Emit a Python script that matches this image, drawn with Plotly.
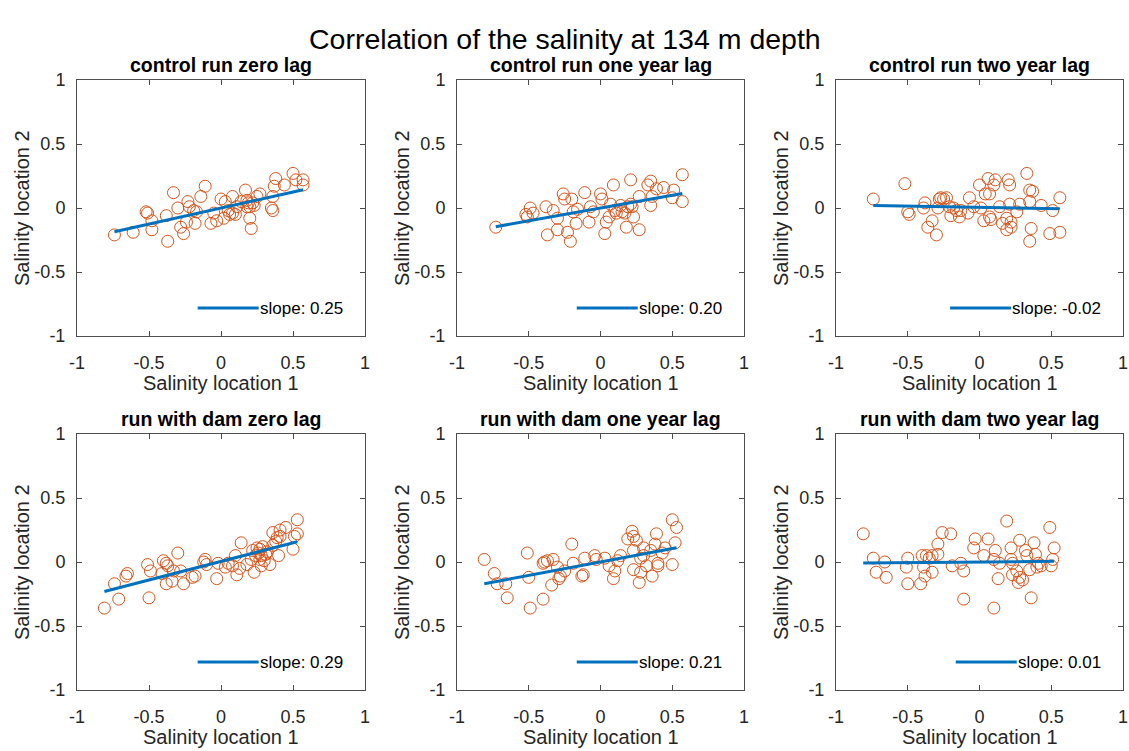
import plotly.graph_objects as go

titles = ["control run zero lag", "control run one year lag", "control run two year lag",
          "run with dam zero lag", "run with dam one year lag", "run with dam two year lag"]
main_title = "Correlation of the salinity at 134 m depth"
x_label = "Salinity location 1"
y_label = "Salinity location 2"
tick_vals = [-1, -0.5, 0, 0.5, 1]
tick_text = ["-1", "-0.5", "0", "0.5", "1"]

slopes = [0.25, 0.20, -0.02, 0.29, 0.21, 0.01]
intercepts = [0.0, 0.0, 0.005, 0.005, 0.0, 0.0]

x1 = [-0.74, -0.61, -0.52, -0.51, -0.48, -0.48, -0.37, -0.38, -0.33, -0.30, -0.28, -0.26, -0.24, -0.23,
      -0.22, -0.19, -0.18, -0.17, -0.14, -0.11, -0.07, -0.05, -0.03, 0.00, 0.02, 0.03, 0.05, 0.06, 0.08,
      0.11, 0.14, 0.17, 0.18, 0.19, 0.20, 0.21, 0.20, 0.22, 0.25, 0.27, 0.35, 0.36, 0.37, 0.38, 0.44,
      0.50, 0.52, 0.57, 0.57, 0.36, 0.08, 0.18, 0.23, 0.10]
y1 = [-0.21, -0.19, -0.03, -0.04, -0.17, -0.10, -0.26, -0.06, 0.12, 0.00, -0.15, -0.20, -0.11, 0.05,
      0.01, -0.02, -0.12, -0.03, 0.09, 0.17, -0.12, -0.04, -0.10, 0.07, -0.08, 0.05, -0.02, -0.05, -0.04,
      0.01, 0.05, 0.14, 0.01, 0.04, -0.08, -0.16, 0.01, 0.04, 0.09, 0.11, 0.00, 0.09, 0.17, 0.23, 0.18,
      0.27, 0.22, 0.22, 0.18, -0.02, 0.09, 0.06, 0.02, -0.05]

x2 = [-0.73, -0.52, -0.51, -0.49, -0.47, -0.38, -0.37, -0.33, -0.30, -0.30, -0.26, -0.25, -0.23, -0.21,
      -0.20, -0.19, -0.17, -0.16, -0.11, -0.08, -0.07, -0.05, 0.00, 0.01, 0.03, 0.04, 0.06, 0.07, 0.09,
      0.10, 0.11, 0.14, 0.15, 0.17, 0.18, 0.19, 0.21, 0.21, 0.22, 0.23, 0.27, 0.27, 0.33, 0.35, 0.35,
      0.36, 0.39, 0.44, 0.50, 0.51, 0.57, 0.57]
y2 = [-0.15, -0.05, -0.07, 0.00, -0.04, 0.01, -0.21, -0.02, -0.08, -0.17, 0.11, 0.07, -0.19, -0.26,
      0.07, -0.03, -0.12, -0.01, 0.12, -0.11, 0.01, -0.03, 0.11, 0.07, -0.20, -0.11, -0.07, 0.03, 0.18,
      -0.02, -0.04, 0.02, -0.03, -0.04, -0.15, 0.01, 0.03, 0.22, 0.01, -0.07, -0.17, 0.09, 0.18, 0.21,
      0.02, 0.09, 0.15, 0.16, 0.08, 0.14, 0.05, 0.26]

x3 = [-0.74, -0.52, -0.50, -0.49, -0.39, -0.38, -0.36, -0.33, -0.30, -0.29, -0.28, -0.27, -0.25, -0.23,
      -0.21, -0.20, -0.18, -0.16, -0.14, -0.13, -0.08, -0.07, -0.04, 0.00, 0.01, 0.03, 0.04, 0.06, 0.07,
      0.07, 0.08, 0.10, 0.11, 0.14, 0.16, 0.19, 0.20, 0.21, 0.21, 0.19, 0.22, 0.22, 0.26, 0.28, 0.33,
      0.35, 0.35, 0.36, 0.35, 0.37, 0.43, 0.49, 0.51, 0.56, 0.56]
y3 = [0.07, 0.19, -0.03, -0.05, 0.00, 0.04, -0.15, -0.10, -0.21, 0.00, 0.07, 0.08, 0.07, 0.08,
      0.01, -0.06, 0.00, -0.02, -0.07, -0.02, -0.04, 0.08, 0.01, 0.18, 0.00, -0.10, 0.11, 0.23, -0.07,
      0.11, -0.09, 0.18, 0.22, 0.01, -0.12, -0.08, 0.22, 0.03, 0.18, -0.17, -0.15, -0.11, -0.03, 0.03, 0.27,
      0.05, 0.14, -0.16, -0.26, 0.13, 0.02, -0.20, -0.02, -0.19, 0.08]

x4 = [-0.81, -0.74, -0.71, -0.66, -0.65, -0.51, -0.50, -0.49, -0.41, -0.40, -0.38, -0.38, -0.37, -0.34,
      -0.33, -0.30, -0.28, -0.26, -0.20, -0.18, -0.12, -0.11, -0.10, -0.03, -0.02, 0.03, 0.05, 0.08, 0.10,
      0.11, 0.13, 0.14, 0.18, 0.21, 0.22, 0.23, 0.24, 0.25, 0.26, 0.27, 0.27, 0.28, 0.28, 0.29, 0.30,
      0.31, 0.32, 0.34, 0.36, 0.36, 0.38, 0.39, 0.40, 0.41, 0.41, 0.45, 0.50, 0.51, 0.53, 0.53]
y4 = [-0.36, -0.17, -0.29, -0.11, -0.09, -0.02, -0.28, -0.07, -0.09, 0.01, -0.17, -0.01, -0.03, -0.15,
      -0.07, 0.07, -0.07, -0.17, -0.12, -0.11, 0.00, 0.02, -0.02, -0.13, -0.01, -0.04, -0.01, -0.03, 0.05,
      -0.10, -0.05, 0.15, -0.02, 0.02, 0.09, -0.08, 0.05, 0.11, 0.07, 0.02, 0.10, -0.03, 0.05, 0.12, 0.01,
      0.06, 0.08, -0.02, 0.13, 0.23, 0.16, 0.19, 0.05, 0.20, 0.25, 0.27, 0.10, 0.20, 0.22, 0.33]

x5 = [-0.81, -0.74, -0.72, -0.66, -0.65, -0.51, -0.50, -0.49, -0.40, -0.40, -0.39, -0.37, -0.33, -0.34,
      -0.30, -0.29, -0.28, -0.25, -0.20, -0.19, -0.13, -0.12, -0.11, -0.04, -0.03, 0.03, 0.06, 0.09, 0.10,
      0.12, 0.14, 0.19, 0.22, 0.23, 0.23, 0.23, 0.25, 0.27, 0.28, 0.28, 0.30, 0.30, 0.32, 0.35, 0.36,
      0.38, 0.39, 0.40, 0.40, 0.43, 0.45, 0.50, 0.50, 0.52, 0.53]
y5 = [0.02, -0.09, -0.17, -0.17, -0.28, 0.07, -0.12, -0.36, -0.29, -0.01, 0.00, 0.01, 0.02, -0.18,
      -0.04, -0.13, -0.11, -0.07, 0.14, -0.01, -0.11, -0.10, 0.03, 0.05, 0.02, 0.03, -0.03, -0.13, -0.07,
      0.01, 0.05, 0.18, 0.24, 0.20, -0.06, 0.09, 0.17, -0.16, -0.08, 0.03, 0.05, 0.11, -0.03, 0.09, -0.11,
      0.14, 0.22, -0.03, -0.01, 0.07, 0.11, -0.02, 0.33, 0.15, 0.27]

x6 = [-0.81, -0.74, -0.72, -0.66, -0.65, -0.51, -0.50, -0.50, -0.41, -0.40, -0.39, -0.38, -0.37, -0.35,
      -0.33, -0.33, -0.29, -0.29, -0.26, -0.20, -0.19, -0.13, -0.11, -0.11, -0.04, -0.03, 0.03, 0.06, 0.10,
      0.10, 0.11, 0.13, 0.14, 0.19, 0.22, 0.22, 0.23, 0.23, 0.26, 0.27, 0.28, 0.28, 0.30, 0.32, 0.33,
      0.35, 0.36, 0.38, 0.39, 0.40, 0.41, 0.43, 0.49, 0.50, 0.51, 0.52]
y6 = [0.22, 0.03, -0.08, 0.00, -0.12, -0.04, -0.17, 0.03, -0.17, 0.05, -0.04, -0.11, 0.05, 0.03,
      -0.08, 0.05, 0.06, 0.14, 0.23, 0.22, -0.03, -0.01, -0.07, -0.29, 0.11, 0.18, 0.05, 0.18, 0.02,
      -0.36, 0.09, -0.13, -0.01, 0.32, 0.11, 0.02, -0.01, -0.10, -0.07, -0.16, 0.17, -0.12, -0.14, 0.09, 0.05,
      -0.06, -0.28, 0.15, 0.06, -0.04, -0.01, -0.03, 0.27, -0.03, 0.02, 0.11]

xs = [x1, x2, x3, x4, x5, x6]
ys = [y1, y2, y3, y4, y5, y6]

W, H = 1129, 751
col_px = [(77, 365), (457, 744), (836, 1123)]
row_px = [(80, 336), (434, 690)]

FONT = "Liberation Sans, Arial, sans-serif"
TXT = "#262626"
ORANGE = "#D95319"
BLUE = "#0072BD"

# approximate Arial advance widths (em) for legend-text width estimation
CW = {"s": .5, "l": .222, "o": .556, "p": .556, "e": .556, ":": .278, " ": .278,
      ".": .278, "-": .333}


def text_width(t, size):
    return sum(CW.get(c, .556) for c in t) * size


fig = go.Figure()
layout = dict(width=W, height=H, margin=dict(l=0, r=0, t=0, b=0),
              paper_bgcolor="white", plot_bgcolor="white", showlegend=False,
              font=dict(family=FONT, color=TXT))
annotations = []
shapes = []
LEG_SIZE = 17

for i in range(6):
    r, c = divmod(i, 3)
    n = "" if i == 0 else str(i + 1)
    xa, ya = "x" + n, "y" + n
    x0p, x1p = col_px[c]
    y0p, y1p = row_px[r]
    axis_common = dict(range=[-1, 1], tickvals=tick_vals, ticktext=tick_text, ticks="inside",
                       ticklen=5, tickcolor="#4d4d4d", showline=True, linecolor="#4d4d4d",
                       linewidth=1, mirror="allticks", showgrid=False, zeroline=False,
                       tickfont=dict(size=18, color=TXT, family=FONT), fixedrange=True,
                       automargin=False)
    layout["xaxis" + n] = dict(axis_common, domain=[x0p / W, x1p / W], anchor=ya,
                               ticklabelstandoff=10)
    layout["yaxis" + n] = dict(axis_common, domain=[1 - y1p / H, 1 - y0p / H], anchor=xa,
                               ticklabelstandoff=7)

    fig.add_trace(go.Scatter(x=xs[i], y=ys[i], mode="markers", xaxis=xa, yaxis=ya,
                             marker=dict(symbol="circle-open", size=12, color=ORANGE,
                                         line=dict(width=1, color=ORANGE))))
    xmin, xmax = min(xs[i]), max(xs[i])
    fig.add_trace(go.Scatter(x=[xmin, xmax],
                             y=[slopes[i] * xmin + intercepts[i], slopes[i] * xmax + intercepts[i]],
                             mode="lines", xaxis=xa, yaxis=ya,
                             line=dict(color=BLUE, width=3)))

    # subplot title
    annotations.append(dict(text="<b>" + titles[i] + "</b>", xref=xa + " domain", yref=ya + " domain",
                            x=0.5, y=1, yanchor="middle", yshift=15, showarrow=False,
                            font=dict(size=19.5, color="black", family=FONT)))
    # axis titles
    annotations.append(dict(text=x_label, xref=xa + " domain", yref=ya + " domain", x=0.5, y=0,
                            yanchor="middle", yshift=-47, showarrow=False,
                            font=dict(size=20, color=TXT, family=FONT)))
    annotations.append(dict(text=y_label, xref=xa + " domain", yref=ya + " domain", x=0, y=0.5,
                            xanchor="center", xshift=-55, textangle=-90, showarrow=False,
                            font=dict(size=20, color=TXT, family=FONT)))
    # legend (box off, bottom-right)
    label = "slope: %.2f" % slopes[i]
    w_ax = x1p - x0p
    h_ax = y1p - y0p
    text_right = 0.93
    tw = text_width(label, LEG_SIZE) / w_ax
    ly = 28 / h_ax
    annotations.append(dict(text=label, xref=xa + " domain", yref=ya + " domain", x=text_right,
                            y=ly, xanchor="right", yanchor="middle", showarrow=False,
                            font=dict(size=LEG_SIZE, color="black", family=FONT)))
    line_end = text_right - tw - 3 / w_ax
    shapes.append(dict(type="line", xref=xa + " domain", yref=ya + " domain",
                       x0=line_end - 61 / w_ax, x1=line_end, y0=ly, y1=ly,
                       line=dict(color=BLUE, width=3)))

annotations.append(dict(text=main_title, xref="paper", yref="paper", x=0.5, y=1 - 39 / H,
                        xanchor="center", yanchor="middle", showarrow=False,
                        font=dict(size=28.5, color="black", family=FONT)))
layout["annotations"] = annotations
layout["shapes"] = shapes
fig.update_layout(**layout)
fig.write_html("out.html", config={"displayModeBar": False})
